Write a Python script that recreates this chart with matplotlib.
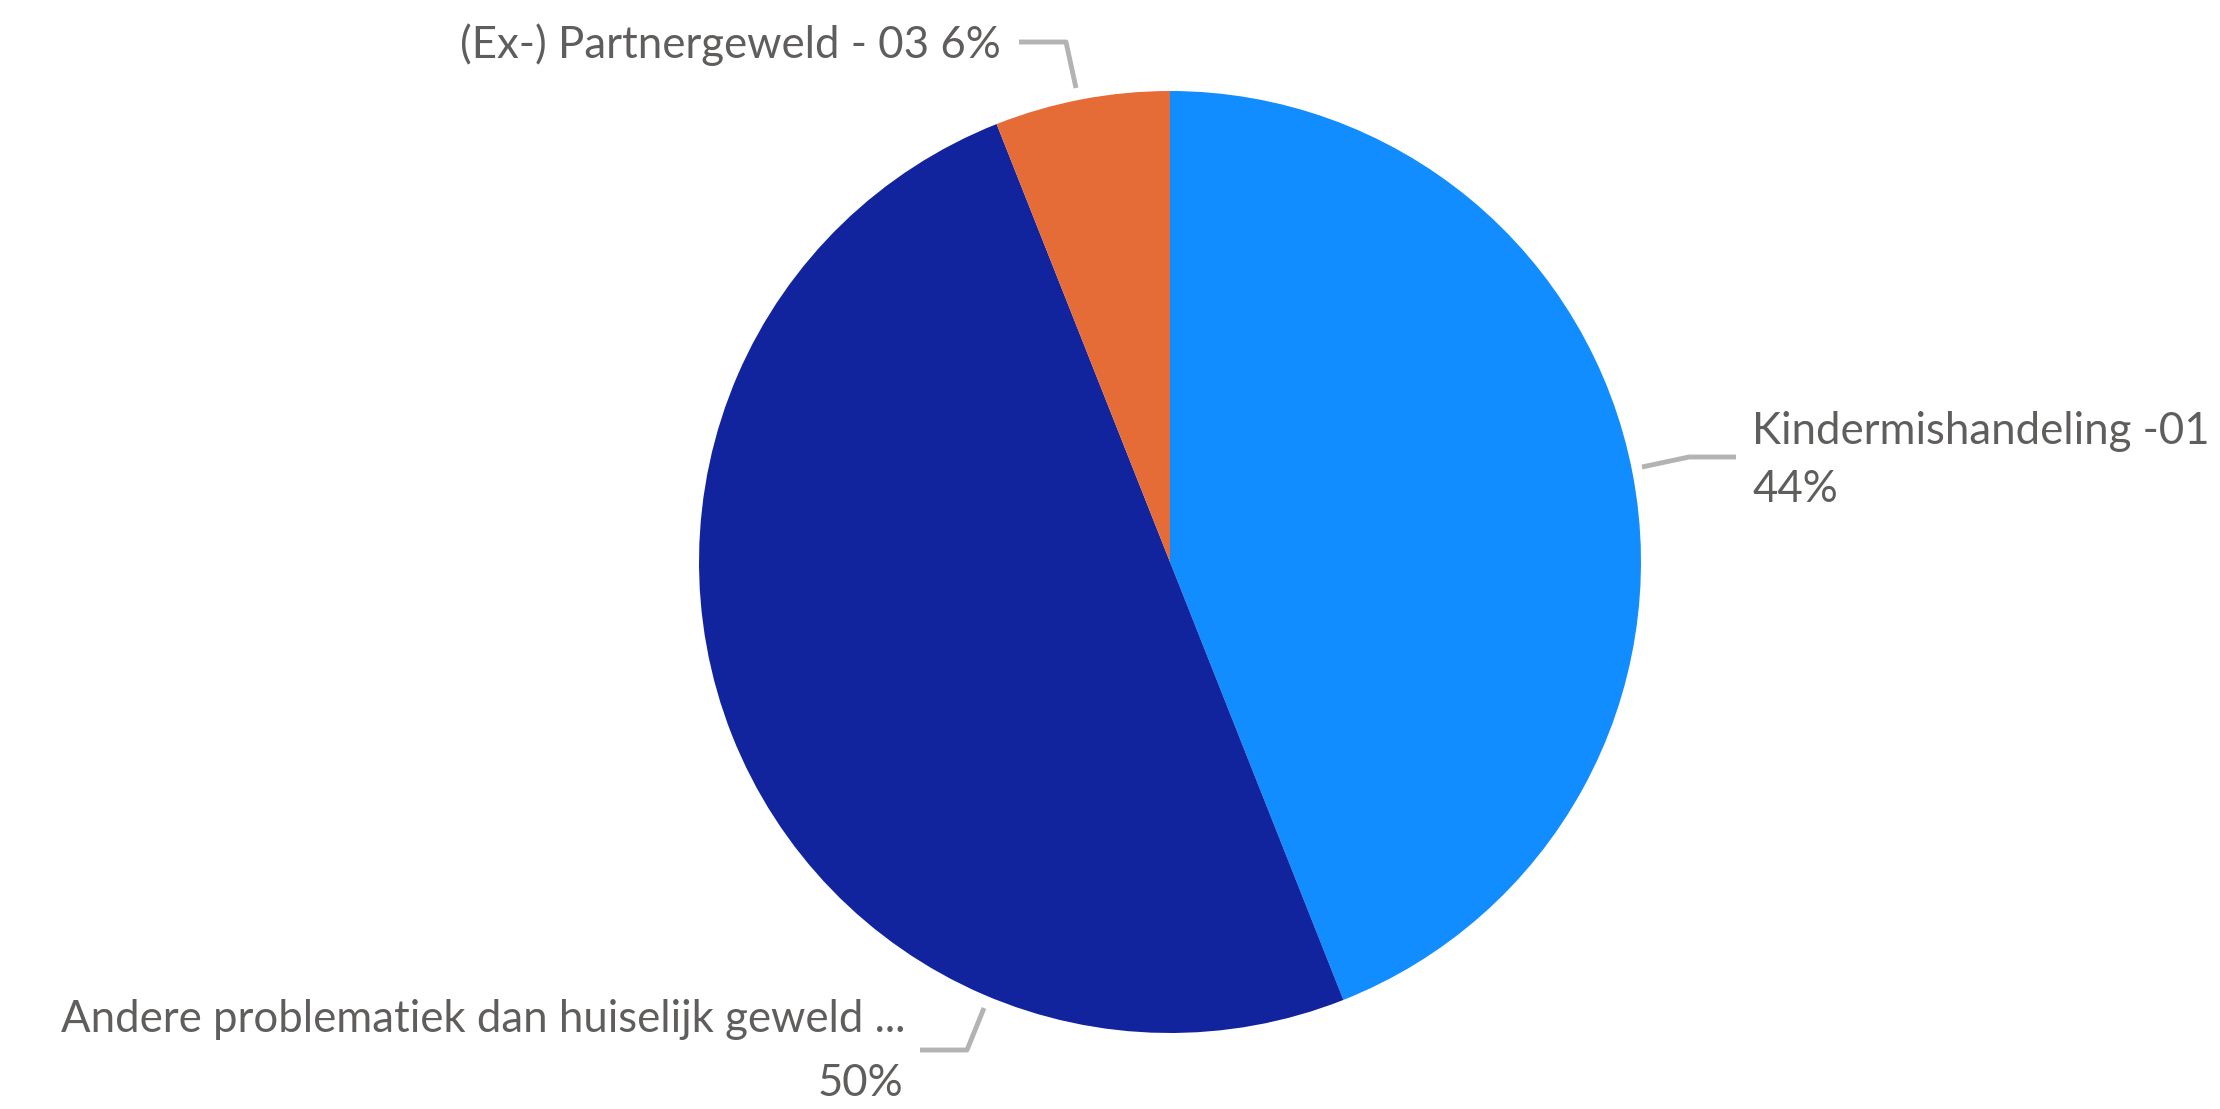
import matplotlib
matplotlib.use("Agg")
import matplotlib.pyplot as plt

labels = ["Kindermishandeling -01", "Andere problematiek dan huiselijk geweld ...", "(Ex-) Partnergeweld - 03"]
values = [44, 50, 6]
pct_text = ["44%", "50%", "6%"]
colors = ["#118DFF", "#12239E", "#E66C37"]

W, H = 2220, 1109
fig = plt.figure(figsize=(W / 100, H / 100), dpi=100)
ax = fig.add_axes([0, 0, 1, 1])

# pie drawn with y pointing down, so counterclock=True gives clockwise on screen
ax.pie(values, colors=colors, startangle=-90, counterclock=True,
       center=(1170, 562), radius=471, frame=True,
       wedgeprops=dict(linewidth=0))
ax.set_xlim(0, W)
ax.set_ylim(H, 0)
ax.axis("off")

txt = dict(color="#605E5C", fontsize=31.5, family=["Lato", "DejaVu Sans"])
line = dict(color="#B3B3B3", lw=3.5, solid_capstyle="butt")

# Kindermishandeling
ax.plot([1642, 1689, 1736], [467, 457, 457], **line)
ax.text(1752, 432, labels[0], ha="left", va="center", **txt)
ax.text(1752, 489, pct_text[0], ha="left", va="center", **txt)

# Andere problematiek
ax.plot([920, 967, 984], [1050, 1050, 1008], **line)
ax.text(905, 1019, labels[1], ha="right", va="center", **txt)
ax.text(903, 1083, pct_text[1], ha="right", va="center", **txt)

# Partnergeweld
ax.plot([1019, 1066, 1076], [42, 42, 88], **line)
ax.text(1001, 45, labels[2] + " " + pct_text[2], ha="right", va="center", **txt)

fig.savefig("out.png", dpi=100)
